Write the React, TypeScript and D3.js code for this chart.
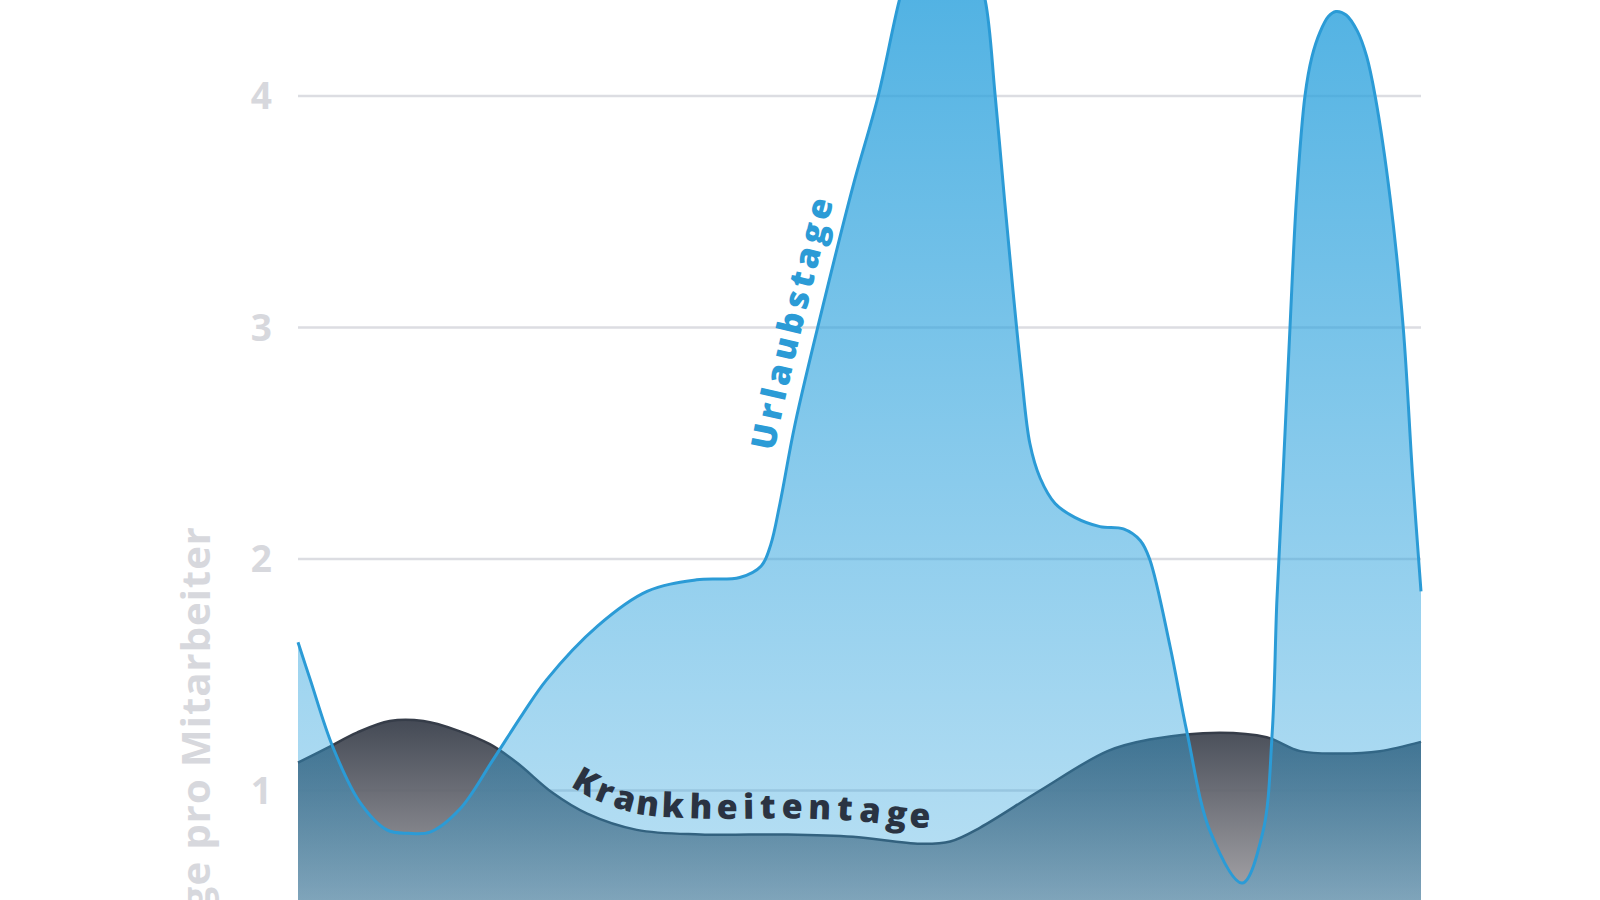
import React, { useEffect, useRef } from 'react'
import * as d3 from 'd3'

// Position along the year (0 = January start, 12 = December end) and days per employee
const urlaubMonths = [0, 0.13, 0.37, 0.66, 0.95, 1.18, 1.41, 1.73, 2.08, 2.4, 2.66, 3.2, 3.73, 4.26, 4.72, 4.95, 5.05, 5.15, 5.31, 5.65, 5.93, 6.2, 6.43, 6.56, 6.67, 6.88, 7.1, 7.2, 7.34, 7.45, 7.55, 7.64, 7.73, 7.82, 7.93, 8.09, 8.3, 8.57, 8.82, 9.0, 9.1, 9.32, 9.5, 9.75, 10.09, 10.31, 10.41, 10.46, 10.53, 10.6, 10.67, 10.76, 10.835, 10.92, 11.01, 11.09, 11.2, 11.32, 11.42, 11.51, 11.67, 11.81, 11.91, 12.0]
const urlaubValues = [1.64, 1.48, 1.19, 0.95, 0.83, 0.815, 0.82, 0.92, 1.13, 1.33, 1.48, 1.71, 1.86, 1.91, 1.92, 1.97, 2.06, 2.24, 2.58, 3.16, 3.61, 4.0, 4.42, 4.59, 4.68, 4.75, 4.68, 4.59, 4.42, 4.0, 3.55, 3.16, 2.8, 2.5, 2.35, 2.24, 2.18, 2.14, 2.13, 2.08, 2.0, 1.62, 1.25, 0.82, 0.6, 0.82, 1.25, 1.82, 2.4, 3.0, 3.56, 4.0, 4.17, 4.275, 4.343, 4.365, 4.35, 4.28, 4.17, 4.0, 3.56, 3.0, 2.36, 1.86]

const krankMonths = [0, 0.34, 0.63, 0.98, 1.34, 1.7, 2.05, 2.34, 2.72, 3.09, 3.62, 4.3, 5.23, 5.93, 6.65, 6.97, 7.29, 7.93, 8.65, 9.1, 9.85, 10.35, 10.71, 11.13, 11.56, 12.0]
const krankValues = [1.12, 1.19, 1.25, 1.3, 1.3, 1.26, 1.2, 1.12, 0.99, 0.9, 0.83, 0.81, 0.81, 0.8, 0.77, 0.78, 0.84, 1.0, 1.17, 1.22, 1.25, 1.23, 1.17, 1.16, 1.17, 1.21]

const yTicks = [1, 2, 3, 4]
const yTitle = 'Tage pro Mitarbeiter'
const urlaubLabel = 'Urlaubstage'
const krankLabel = 'Krankheitentage'

const FONT = '"Open Sans", "DejaVu Sans", sans-serif'

export default function App() {
  const svgRef = useRef<SVGSVGElement>(null)

  useEffect(() => {
    if (!svgRef.current) return
    const height = 900
    const svg = d3.select(svgRef.current)
    svg.selectAll('*').remove()

    const x = d3.scaleLinear().domain([0, 12]).range([298, 1421])
    const y = d3.scaleLinear().domain([0, 4]).range([1022, 96])

    const urlaub = urlaubMonths.map((m, i) => ({ m, v: urlaubValues[i] }))
    const krank = krankMonths.map((m, i) => ({ m, v: krankValues[i] }))

    const defs = svg.append('defs')
    const ug = defs.append('linearGradient')
      .attr('id', 'urlaubFill')
      .attr('gradientUnits', 'userSpaceOnUse')
      .attr('x1', 0).attr('x2', 0)
      .attr('y1', y(4.8)).attr('y2', height)
    ug.append('stop').attr('offset', 0).attr('stop-color', '#2da2dd').attr('stop-opacity', 0.87)
    ug.append('stop').attr('offset', 1).attr('stop-color', '#2da2dd').attr('stop-opacity', 0.33)

    const kg = defs.append('linearGradient')
      .attr('id', 'krankFill')
      .attr('gradientUnits', 'userSpaceOnUse')
      .attr('x1', 0).attr('x2', 0)
      .attr('y1', y(1.3)).attr('y2', height)
    kg.append('stop').attr('offset', 0).attr('stop-color', '#393f4b')
    kg.append('stop').attr('offset', 1).attr('stop-color', '#a2a0a4')

    // grid lines
    svg.append('g')
      .selectAll('line')
      .data(yTicks)
      .join('line')
      .attr('x1', x(0))
      .attr('x2', x(12))
      .attr('y1', d => y(d))
      .attr('y2', d => y(d))
      .attr('stroke', '#dcdde2')
      .attr('stroke-width', 2.5)

    // tick labels
    svg.append('g')
      .selectAll('text')
      .data(yTicks)
      .join('text')
      .attr('x', x(0) - 26)
      .attr('y', d => y(d))
      .attr('dy', '0.36em')
      .attr('text-anchor', 'end')
      .style('font-family', FONT)
      .style('font-weight', 700)
      .style('font-size', '37px')
      .style('fill', '#d7d8dd')
      .text(d => d)

    // axis title (runs off the bottom edge, as in the original)
    svg.append('text')
      .attr('transform', `translate(210, 526) rotate(-90)`)
      .attr('text-anchor', 'end')
      .style('font-family', FONT)
      .style('font-weight', 700)
      .style('font-size', '40px')
      .style('letter-spacing', '1px')
      .style('fill', '#d7d8dd')
      .text(yTitle)

    const curve = d3.curveCatmullRom.alpha(0.5)

    const area = d3.area<{ m: number; v: number }>()
      .x(d => x(d.m))
      .y0(y(0))
      .y1(d => y(d.v))
      .curve(curve)

    const line = d3.line<{ m: number; v: number }>()
      .x(d => x(d.m))
      .y(d => y(d.v))
      .curve(curve)

    // Krankheitentage (behind)
    svg.append('path')
      .attr('d', area(krank))
      .attr('fill', 'url(#krankFill)')
      .attr('fill-opacity', 0.94)
    svg.append('path')
      .attr('id', 'krankLine')
      .attr('d', line(krank))
      .attr('fill', 'none')
      .attr('stroke', '#363d49')
      .attr('stroke-width', 2.5)

    // Urlaubstage (in front, translucent)
    svg.append('path')
      .attr('d', area(urlaub))
      .attr('fill', 'url(#urlaubFill)')
    svg.append('path')
      .attr('id', 'urlaubLine')
      .attr('d', line(urlaub))
      .attr('fill', 'none')
      .attr('stroke', '#2b9bd6')
      .attr('stroke-width', 3)

    const lengthWhere = (node: SVGPathElement, test: (p: DOMPoint) => boolean) => {
      const total = node.getTotalLength()
      for (let l = 0; l < total; l += 1) {
        if (test(node.getPointAtLength(l))) return l
      }
      return 0
    }

    const addCurveLabel = (
      pathId: string,
      label: string,
      offset: number,
      shift: number,
      target: number,
      color: string
    ) => {
      const t = svg.append('text')
        .style('font-family', FONT)
        .style('font-weight', 800)
        .style('font-size', '34px')
        .style('fill', color)
      const span = t.append('textPath')
        .attr('href', `#${pathId}`)
        .attr('startOffset', offset)
        .append('tspan')
        .attr('dy', shift)
        .text(label)
      const node = t.node() as SVGTextElement
      const len = node.getComputedTextLength()
      span.style('letter-spacing', `${(target - len) / label.length}px`)
    }

    const uNode = svg.select<SVGPathElement>('#urlaubLine').node()!
    const kNode = svg.select<SVGPathElement>('#krankLine').node()!
    addCurveLabel('urlaubLine', urlaubLabel, lengthWhere(uNode, p => p.x > 760 && p.y < 455), -15, 260, '#2b9bd6')
    addCurveLabel('krankLine', krankLabel, lengthWhere(kNode, p => p.x >= 562), -16, 380, '#2a3342')
  }, [])

  return (
    <svg
      ref={svgRef}
      width={1600}
      height={900}
      style={{ position: 'absolute', left: 0, top: 0, background: '#ffffff' }}
    />
  )
}
